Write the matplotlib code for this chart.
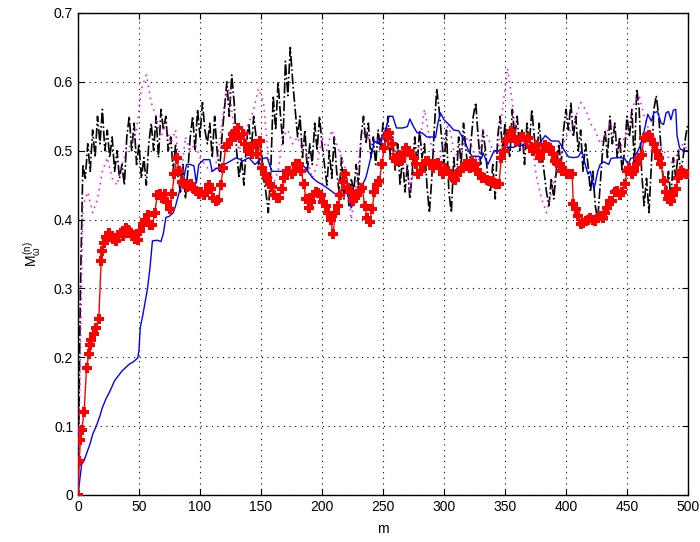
import numpy as np
import matplotlib
matplotlib.use("Agg")
import matplotlib.pyplot as plt

# ---- black dash-dot series, sampled every 2 steps ----
black_m = list(range(0, 501, 2))
black_v = [
    0.00, 0.30, 0.48, 0.46, 0.51, 0.47, 0.53, 0.49, 0.55, 0.51,
    0.56, 0.50, 0.53, 0.49, 0.52, 0.47, 0.50, 0.46, 0.48, 0.45,
    0.52, 0.55, 0.50, 0.54, 0.48, 0.51, 0.46, 0.49, 0.45, 0.51,
    0.54, 0.50, 0.55, 0.49, 0.56, 0.53, 0.55, 0.50, 0.52, 0.47,
    0.51, 0.46, 0.44, 0.48, 0.43, 0.47, 0.52, 0.55, 0.50, 0.56,
    0.52, 0.57, 0.53, 0.51, 0.54, 0.49, 0.55, 0.50, 0.47, 0.52,
    0.56, 0.60, 0.55, 0.61, 0.57, 0.50, 0.46, 0.49, 0.45, 0.51,
    0.54, 0.50, 0.55, 0.52, 0.48, 0.51, 0.46, 0.44, 0.41, 0.47,
    0.58, 0.53, 0.60, 0.55, 0.51, 0.63, 0.58, 0.65, 0.60, 0.56,
    0.52, 0.55, 0.49, 0.53, 0.47, 0.51, 0.48, 0.54, 0.50, 0.55,
    0.51, 0.48, 0.45, 0.50, 0.46, 0.52, 0.47, 0.44, 0.49, 0.43,
    0.47, 0.42, 0.46, 0.44, 0.48, 0.45, 0.52, 0.55, 0.51, 0.54,
    0.49, 0.52, 0.48, 0.53, 0.50, 0.54, 0.51, 0.55, 0.49, 0.52,
    0.47, 0.51, 0.45, 0.49, 0.44, 0.48, 0.43, 0.47, 0.52, 0.48,
    0.53, 0.49, 0.51, 0.45, 0.41, 0.46, 0.53, 0.59, 0.56, 0.52,
    0.48, 0.53, 0.44, 0.41, 0.49, 0.45, 0.52, 0.48, 0.54, 0.50,
    0.47, 0.51, 0.55, 0.57, 0.52, 0.48, 0.53, 0.50, 0.46, 0.44,
    0.48, 0.43, 0.52, 0.55, 0.50, 0.54, 0.51, 0.49, 0.56, 0.52,
    0.55, 0.50, 0.53, 0.48, 0.54, 0.51, 0.56, 0.52, 0.49, 0.54,
    0.50, 0.47, 0.44, 0.42, 0.46, 0.43, 0.47, 0.51, 0.48, 0.53,
    0.56, 0.53, 0.57, 0.52, 0.55, 0.50, 0.53, 0.47, 0.51, 0.48,
    0.44, 0.47, 0.42, 0.40, 0.45, 0.50, 0.53, 0.49, 0.55, 0.51,
    0.54, 0.49, 0.52, 0.47, 0.50, 0.55, 0.52, 0.56, 0.48, 0.59,
    0.56, 0.47, 0.42, 0.46, 0.41, 0.48, 0.56, 0.58, 0.55, 0.50,
    0.45, 0.44, 0.47, 0.43, 0.49, 0.46, 0.50, 0.47, 0.49, 0.52,
    0.54, 0.54,
][:len(black_m)]

# ---- magenta dotted series, sampled every 4 steps ----
mag_m = list(range(0, 501, 4))
mag_v = [
    0.00, 0.42, 0.44, 0.41, 0.43, 0.47, 0.49, 0.46, 0.45, 0.48,
    0.50, 0.51, 0.53, 0.59, 0.61, 0.57, 0.55, 0.52, 0.54, 0.51,
    0.53, 0.45, 0.52, 0.50, 0.51, 0.49, 0.48, 0.47, 0.47, 0.51,
    0.57, 0.59, 0.53, 0.50, 0.52, 0.54, 0.56, 0.59, 0.57, 0.49,
    0.45, 0.47, 0.52, 0.53, 0.51, 0.52, 0.50, 0.49, 0.46, 0.48,
    0.52, 0.50, 0.53, 0.51, 0.49, 0.47, 0.40, 0.45, 0.52, 0.53,
    0.51, 0.52, 0.51, 0.53, 0.52, 0.50, 0.49, 0.50, 0.44, 0.48,
    0.51, 0.56, 0.52, 0.49, 0.48, 0.52, 0.54, 0.50, 0.49, 0.51,
    0.52, 0.50, 0.48, 0.53, 0.52, 0.50, 0.49, 0.56, 0.62, 0.57,
    0.51, 0.50, 0.52, 0.51, 0.46, 0.43, 0.41, 0.44, 0.47, 0.50,
    0.52, 0.53, 0.55, 0.57, 0.56, 0.54, 0.53, 0.51, 0.52, 0.54,
    0.52, 0.50, 0.52, 0.54, 0.57, 0.58, 0.55, 0.53, 0.52, 0.51,
    0.50, 0.49, 0.48, 0.50, 0.51, 0.50,
]

# ---- blue solid series ----
blue_m = [0, 2, 3, 5, 8, 10, 12, 15, 18, 20, 23, 26, 30, 33, 36, 39, 42, 45, 49, 50,
          51, 53, 55, 57, 59, 60, 61, 65, 68, 70, 72, 75, 78, 80, 83, 86, 89, 92, 95, 97,
          99, 103, 108, 110, 114, 117, 120, 125, 130, 135, 140, 145, 150, 155, 159, 165, 170, 178, 182, 186,
          192, 196, 200, 205, 211, 215, 219, 222, 224, 227, 230, 233, 236, 240, 243, 246, 249, 252, 255, 258,
          261, 266, 270, 272, 275, 278, 282, 286, 290, 293, 295, 297, 300, 304, 308, 312, 315, 317, 320, 323,
          328, 331, 332, 336, 341, 346, 349, 353, 357, 361, 365, 370, 377, 380, 383, 388, 394, 397, 402, 406,
          410, 413, 415, 418, 420, 423, 426, 428, 431, 435, 437, 443, 448, 451, 453, 456, 459, 461, 464, 467,
          470, 472, 475, 478, 480, 482, 484, 486, 488, 490, 491, 493, 494, 497, 500]
blue_v = [0.0, 0.03, 0.045, 0.05, 0.065, 0.075, 0.088, 0.10, 0.115, 0.127, 0.14, 0.15, 0.166, 0.173, 0.18, 0.185, 0.19, 0.193, 0.199, 0.21,
          0.243, 0.26, 0.28, 0.30, 0.33, 0.35, 0.369, 0.37, 0.368, 0.38, 0.403, 0.405, 0.41, 0.42, 0.44, 0.455, 0.48, 0.48, 0.478, 0.453,
          0.48, 0.487, 0.487, 0.47, 0.475, 0.47, 0.48, 0.485, 0.49, 0.485, 0.49, 0.48, 0.488, 0.49, 0.47, 0.47, 0.47, 0.47, 0.48, 0.476,
          0.461, 0.455, 0.451, 0.445, 0.437, 0.44, 0.446, 0.43, 0.417, 0.43, 0.44, 0.45, 0.461, 0.49, 0.514, 0.51, 0.52, 0.53, 0.55, 0.55,
          0.533, 0.533, 0.535, 0.546, 0.535, 0.526, 0.526, 0.52, 0.52, 0.519, 0.54, 0.555, 0.545, 0.538, 0.53, 0.529, 0.52, 0.514, 0.50, 0.492,
          0.492, 0.49, 0.497, 0.48, 0.50, 0.50, 0.505, 0.505, 0.505, 0.508, 0.508, 0.508, 0.508, 0.515, 0.522, 0.514, 0.514, 0.505, 0.491, 0.49,
          0.491, 0.50, 0.485, 0.466, 0.47, 0.444, 0.47, 0.48, 0.484, 0.48, 0.489, 0.49, 0.489, 0.48, 0.489, 0.49, 0.50, 0.508, 0.528, 0.553,
          0.543, 0.555, 0.557, 0.54, 0.538, 0.555, 0.557, 0.545, 0.559, 0.56, 0.522, 0.505, 0.502, 0.50, 0.50]

# ---- red series with plus markers ----
red_m = [0, 1, 2, 3, 5, 7, 9, 10, 11, 13, 15, 17, 19, 20, 21, 23, 25, 27, 29, 31,
         33, 35, 37, 39, 41, 43, 45, 47, 49, 51, 53, 55, 57, 59, 61, 63, 65, 67, 69, 71,
         73, 75, 77, 79, 81, 83, 85, 87, 89, 91, 93, 95, 97, 99, 101, 103, 105, 107, 109, 111,
         113, 115, 117, 119, 121, 123, 125, 127, 129, 131, 133, 135, 137, 139, 141, 143, 145, 147, 149, 151,
         153, 155, 157, 159, 161, 163, 165, 167, 169, 171, 173, 175, 177, 179, 181, 183, 185, 187, 189, 191,
         193, 195, 197, 199, 201, 203, 205, 207, 209, 211, 213, 215, 217, 219, 221, 223, 225, 227, 229, 231,
         233, 235, 237, 239, 241, 243, 245, 247, 249, 251, 253, 255, 257, 259, 261, 263, 265, 267, 269, 271,
         273, 275, 277, 279, 281, 283, 285, 287, 289, 291, 293, 295, 297, 299, 301, 303, 305, 307, 309, 311,
         313, 315, 317, 319, 321, 323, 325, 327, 329, 331, 333, 335, 337, 339, 341, 343, 345, 347, 349, 351,
         353, 355, 357, 359, 361, 363, 365, 367, 369, 371, 373, 375, 377, 379, 381, 383, 385, 387, 389, 391,
         393, 395, 397, 399, 401, 403, 405, 406, 408, 410, 412, 414, 416, 418, 420, 422, 424, 426, 428, 430,
         432, 434, 436, 438, 440, 442, 444, 446, 448, 450, 452, 454, 456, 458, 460, 462, 464, 466, 468, 470,
         472, 474, 476, 478, 480, 482, 484, 486, 488, 490, 492, 494, 496, 498, 500]
red_v = [0.0, 0.05, 0.08, 0.095, 0.12, 0.185, 0.205, 0.218, 0.225, 0.234, 0.243, 0.255, 0.34, 0.354, 0.366, 0.375, 0.38, 0.375, 0.372, 0.369,
         0.378, 0.38, 0.376, 0.388, 0.385, 0.38, 0.378, 0.372, 0.371, 0.383, 0.393, 0.40, 0.407, 0.392, 0.392, 0.41, 0.436, 0.437, 0.432, 0.437,
         0.425, 0.415, 0.437, 0.466, 0.49, 0.47, 0.455, 0.451, 0.447, 0.45, 0.452, 0.445, 0.441, 0.437, 0.44, 0.436, 0.44, 0.45, 0.445, 0.432,
         0.427, 0.428, 0.45, 0.475, 0.505, 0.51, 0.515, 0.524, 0.527, 0.533, 0.519, 0.525, 0.51, 0.50, 0.505, 0.495, 0.51, 0.495, 0.514, 0.475,
         0.466, 0.461, 0.451, 0.447, 0.436, 0.432, 0.431, 0.445, 0.461, 0.47, 0.47, 0.466, 0.47, 0.48, 0.48, 0.47, 0.451, 0.43, 0.417, 0.425,
         0.436, 0.44, 0.438, 0.435, 0.425, 0.42, 0.41, 0.40, 0.379, 0.41, 0.42, 0.436, 0.455, 0.466, 0.446, 0.44, 0.427, 0.432, 0.436, 0.442,
         0.446, 0.42, 0.403, 0.397, 0.415, 0.44, 0.45, 0.456, 0.48, 0.504, 0.52, 0.526, 0.51, 0.49, 0.485, 0.494, 0.485, 0.495, 0.504, 0.50,
         0.494, 0.49, 0.48, 0.466, 0.47, 0.48, 0.485, 0.485, 0.48, 0.475, 0.48, 0.482, 0.475, 0.466, 0.475, 0.47, 0.466, 0.46, 0.458, 0.465,
         0.47, 0.475, 0.48, 0.478, 0.475, 0.485, 0.48, 0.472, 0.466, 0.46, 0.46, 0.458, 0.456, 0.456, 0.453, 0.452, 0.451, 0.49, 0.50, 0.514,
         0.52, 0.528, 0.52, 0.514, 0.515, 0.52, 0.52, 0.515, 0.518, 0.505, 0.50, 0.509, 0.50, 0.49, 0.50, 0.509, 0.505, 0.504, 0.495, 0.485,
         0.482, 0.48, 0.47, 0.47, 0.466, 0.466, 0.466, 0.422, 0.415, 0.405, 0.393, 0.395, 0.398, 0.40, 0.403, 0.40, 0.398, 0.402, 0.405, 0.403,
         0.41, 0.417, 0.427, 0.427, 0.44, 0.441, 0.435, 0.44, 0.451, 0.47, 0.475, 0.466, 0.47, 0.48, 0.49, 0.494, 0.519, 0.52, 0.523, 0.515,
         0.51, 0.50, 0.49, 0.48, 0.456, 0.44, 0.43, 0.427, 0.436, 0.445, 0.46, 0.47, 0.468, 0.466, 0.466]

x_ticks = list(range(0, 501, 50))
y_ticks = [0, 0.1, 0.2, 0.3, 0.4, 0.5, 0.6, 0.7]
y_tick_labels = ["0", "0.1", "0.2", "0.3", "0.4", "0.5", "0.6", "0.7"]

plt.rcParams["font.family"] = ["Liberation Sans", "DejaVu Sans"]
plt.rcParams["mathtext.fontset"] = "custom"
plt.rcParams["mathtext.rm"] = "Liberation Sans"
plt.rcParams["mathtext.it"] = "Liberation Sans"

fig = plt.figure(figsize=(7.0, 5.42), dpi=100)
ax = fig.add_axes([78 / 700, 47 / 542, 610 / 700, 482 / 542])

ax.plot(black_m, black_v, color="black", linestyle="-.", linewidth=1.2, zorder=2)
ax.plot(mag_m, mag_v, color="#ff00ff", linestyle=(0, (1, 3)), linewidth=1.1, zorder=3)
ax.plot(blue_m, blue_v, color="#0000ff", linestyle="-", linewidth=1.0, zorder=4)
ax.plot(red_m, red_v, color="#ff0000", linestyle="-", linewidth=1.0,
        marker="P", markersize=7, markeredgewidth=0.0, zorder=5)

ax.set_xlim(0, 500)
ax.set_ylim(0, 0.7)
ax.set_xticks(x_ticks)
ax.set_xticklabels([str(t) for t in x_ticks])
ax.set_yticks(y_ticks)
ax.set_yticklabels(y_tick_labels)
ax.tick_params(direction="in", top=True, right=True, length=4, labelsize=10, width=0.8)
ax.grid(True, color="black", linestyle=(0, (1, 4)), linewidth=0.8)
for s in ax.spines.values():
    s.set_linewidth(1.0)

ax.set_xlabel("m", fontsize=10, labelpad=6)
ax.set_ylabel(r"$M_{\omega}^{(n)}$", fontsize=10, labelpad=8)

fig.savefig("out.png", dpi=100)
